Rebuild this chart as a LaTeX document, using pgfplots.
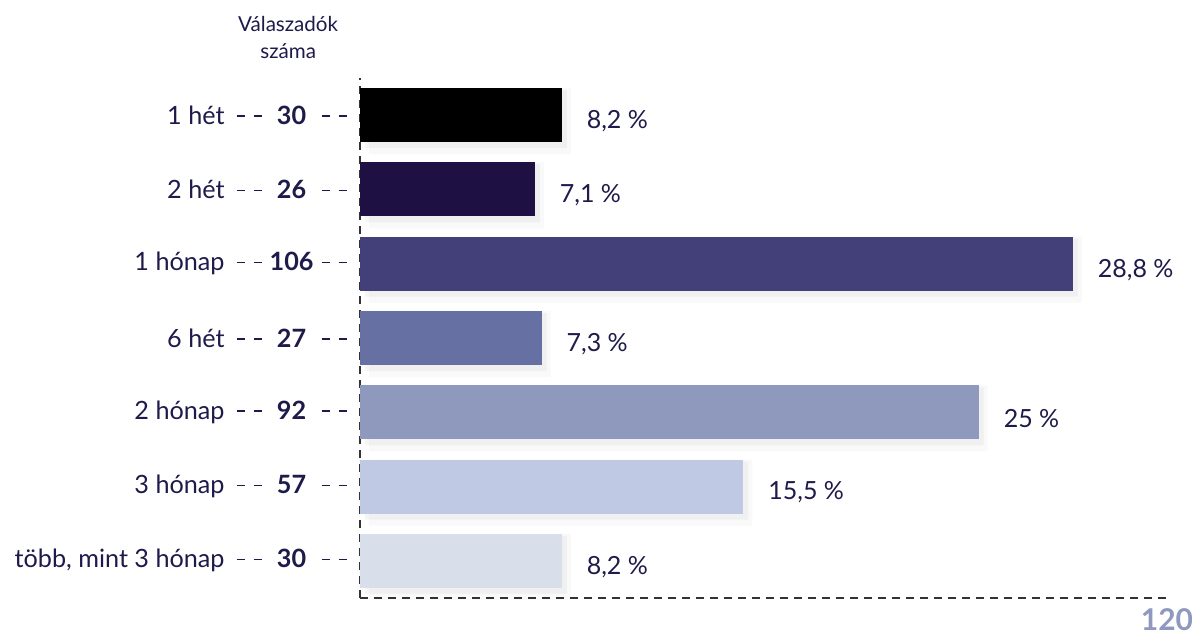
\documentclass[border=0pt]{standalone}
\usepackage{pgfplots}
\pgfplotsset{compat=1.18}
\usepackage{fontspec}
\setmainfont{Lato}

\definecolor{tx}{HTML}{1E1A4A}
\definecolor{c1}{HTML}{000000}
\definecolor{c2}{HTML}{1E1042}
\definecolor{c3}{HTML}{423F79}
\definecolor{c4}{HTML}{6770A3}
\definecolor{c5}{HTML}{8F99BE}
\definecolor{c6}{HTML}{BFC9E3}
\definecolor{c7}{HTML}{D9DEEB}

% dash pair and one row label: name - - count - -
\newcommand\dd{\rule[0.3em]{4pt}{0.75pt}\hspace{4.5pt}\rule[0.3em]{4pt}{0.75pt}}
\newcommand\lab[2]{#1\hspace{6pt}\dd\makebox[30pt][c]{\bfseries #2}\dd}

\pgfplotsset{
  barc/.style={fill=#1, draw=none, bar shift=0pt, nodes near coords,
    point meta=explicit symbolic},
  shad/.style={fill=black, fill opacity=#1, draw=none},
}

\begin{document}
\begin{tikzpicture}
\path[use as bounding box] (-180pt,-18pt) rectangle (416pt,299pt);
\begin{axis}[
  scale only axis, width=403.5pt, height=260pt,
  xmin=0, xmax=120, ymin=-0.5, ymax=6.5,
  xbar, bar width=27pt,
  axis x line*=bottom, axis y line*=left,
  axis line style={-, draw=black!80, line width=0.75pt, dash pattern=on 4pt off 3pt},
  major tick length=0pt,
  ytick={0,...,6},
  yticklabels={{\lab{több, mint 3 hónap}{30}}, {\lab{3 hónap}{57}},
    {\lab{2 hónap}{92}}, {\lab{6 hét}{27}}, {\lab{1 hónap}{106}},
    {\lab{2 hét}{26}}, {\lab{1 hét}{30}}},
  yticklabel style={anchor=east, inner sep=0pt, xshift=-6.5pt,
    font=\fontsize{12.6}{14}\selectfont, text=tx},
  xtick={120}, xticklabels={\textbf{120}},
  xticklabel style={anchor=north, inner sep=0pt, yshift=-5pt,
    font=\fontsize{15}{15}\selectfont, text=c5},
  every node near coord/.append style={anchor=west, xshift=9pt, yshift=-3pt,
    font=\fontsize{12.5}{14}\selectfont, text=tx, fill opacity=1},
  clip=false,
]
% soft shadows behind the bars
\addplot[shad=0.025, bar width=33pt, bar shift=-3pt, xshift=4.5pt] coordinates {(30,6) (26,5) (106,4) (27,3) (92,2) (57,1) (30,0)};
\addplot[shad=0.035, bar width=29pt, bar shift=-2pt, xshift=2.5pt] coordinates {(30,6) (26,5) (106,4) (27,3) (92,2) (57,1) (30,0)};
% bars
\addplot[barc=c1] coordinates {(30,6) [{8,2 \%}]};
\addplot[barc=c2] coordinates {(26,5) [{7,1 \%}]};
\addplot[barc=c3] coordinates {(106,4) [{28,8 \%}]};
\addplot[barc=c4] coordinates {(27,3) [{7,3 \%}]};
\addplot[barc=c5] coordinates {(92,2) [{25 \%}]};
\addplot[barc=c6] coordinates {(57,1) [{15,5 \%}]};
\addplot[barc=c7] coordinates {(30,0) [{8,2 \%}]};
\node[align=center, font=\fontsize{10.3}{13.5}\selectfont, text=tx]
  at (axis description cs:-0.089,1.077) {Válaszadók\\száma};
\end{axis}
\end{tikzpicture}
\end{document}
